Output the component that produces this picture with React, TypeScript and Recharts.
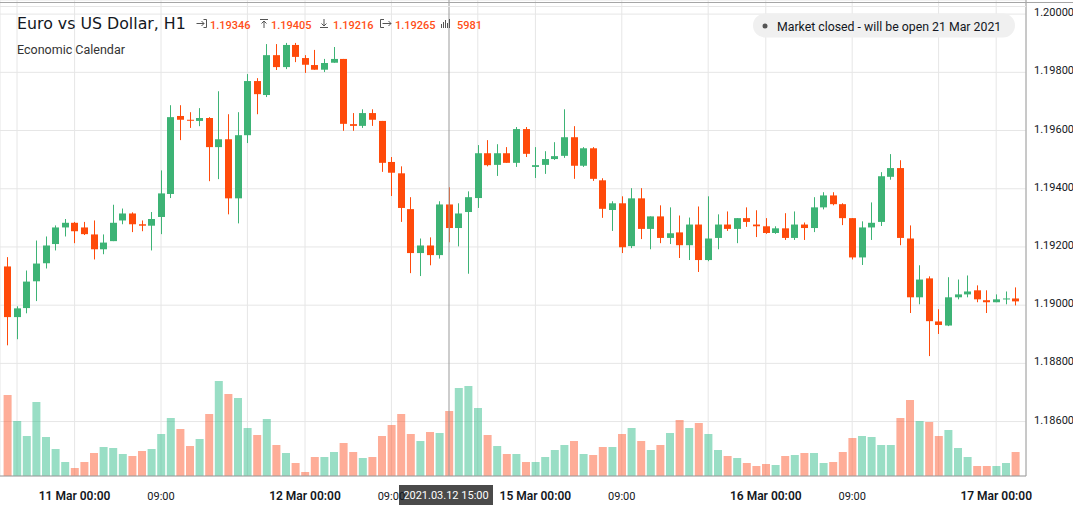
import React from 'react';
import { ComposedChart, Bar, XAxis, YAxis, CartesianGrid, ReferenceLine, Cell } from 'recharts';

// EURUSD H1, 10 Mar 17:00 -> 17 Mar 02:00 (hourly, weekend gap removed)
const open = [
  1.19133, 1.18959, 1.1899, 1.19082, 1.19144, 1.1921, 1.19267, 1.19283, 1.19267, 1.19243,
  1.19192, 1.1922, 1.19291, 1.19315, 1.19278, 1.19273, 1.19303, 1.19382, 1.1965, 1.19637,
  1.19633, 1.19643, 1.19543, 1.1957, 1.19367, 1.19584, 1.1977, 1.19722, 1.19859, 1.19818,
  1.19894, 1.19849, 1.19825, 1.19809, 1.19833, 1.19846, 1.19622, 1.19616, 1.1966, 1.19633,
  1.19492, 1.19453, 1.1933, 1.19179, 1.19205, 1.19172, 1.19346, 1.19265, 1.1932, 1.19368,
  1.19522, 1.19482, 1.19522, 1.19489, 1.19605, 1.19475, 1.19482, 1.19502, 1.19513, 1.19577,
  1.19479, 1.19539, 1.19429, 1.19327, 1.1935, 1.19203, 1.19367, 1.19262, 1.19305, 1.19231,
  1.1925, 1.19206, 1.19277, 1.19155, 1.19231, 1.19277, 1.19262, 1.19299, 1.19277, 1.19271,
  1.19248, 1.19264, 1.19231, 1.19277, 1.19265, 1.19336, 1.19377, 1.19347, 1.19299, 1.19164,
  1.19267, 1.19286, 1.19441, 1.19471, 1.19229, 1.19027, 1.19092, 1.18944, 1.1893, 1.19027,
  1.19037, 1.19051, 1.19017, 1.1901, 1.1902, 1.19023,
];
const high = [
  1.19165, 1.18996, 1.19119, 1.19222, 1.19236, 1.19274, 1.19296, 1.19286, 1.19286, 1.19291,
  1.19243, 1.19345, 1.19332, 1.19319, 1.19291, 1.1932, 1.19463, 1.19687, 1.19687, 1.19663,
  1.19677, 1.19646, 1.19735, 1.19656, 1.19663, 1.19794, 1.1978, 1.19897, 1.19897, 1.19901,
  1.19901, 1.19859, 1.19877, 1.19846, 1.19887, 1.19846, 1.1966, 1.19673, 1.19673, 1.19633,
  1.19509, 1.19477, 1.19371, 1.19229, 1.19233, 1.19357, 1.19405, 1.1935, 1.19391, 1.1955,
  1.19567, 1.19553, 1.19543, 1.19612, 1.19612, 1.19543, 1.19529, 1.1956, 1.19673, 1.19615,
  1.19543, 1.19543, 1.19436, 1.19357, 1.19374, 1.19402, 1.19402, 1.19305, 1.19343, 1.19336,
  1.19308, 1.19301, 1.19339, 1.19374, 1.19312, 1.19322, 1.19299, 1.19336, 1.19326, 1.19299,
  1.19271, 1.19316, 1.19322, 1.19284, 1.19371, 1.19388, 1.19388, 1.1935, 1.19299, 1.19288,
  1.19353, 1.19457, 1.19519, 1.19498, 1.19274, 1.19137, 1.19099, 1.18986, 1.19096, 1.19088,
  1.19102, 1.19068, 1.19051, 1.19037, 1.19047, 1.19061,
];
const low = [
  1.18862, 1.18883, 1.18972, 1.19014, 1.19126, 1.19188, 1.19236, 1.19213, 1.19241, 1.19157,
  1.19175, 1.1922, 1.19278, 1.19251, 1.19254, 1.19188, 1.19244, 1.19368, 1.19567, 1.19609,
  1.19615, 1.19426, 1.19433, 1.19312, 1.19281, 1.19557, 1.19656, 1.19715, 1.19808, 1.19811,
  1.19835, 1.19798, 1.19809, 1.19801, 1.19833, 1.19599, 1.19599, 1.19609, 1.19616, 1.19458,
  1.19375, 1.19286, 1.1911, 1.191, 1.19137, 1.1916, 1.19216, 1.19202, 1.19108, 1.19334,
  1.19477, 1.19444, 1.19489, 1.19475, 1.19509, 1.19437, 1.19451, 1.19499, 1.19506, 1.19434,
  1.19475, 1.19427, 1.193, 1.19255, 1.19179, 1.19196, 1.19227, 1.19192, 1.19213, 1.1921,
  1.19162, 1.19155, 1.19114, 1.19151, 1.19192, 1.19255, 1.19213, 1.19269, 1.19234, 1.19245,
  1.19245, 1.19224, 1.19224, 1.19224, 1.19251, 1.19329, 1.19343, 1.19275, 1.19157, 1.19138,
  1.19224, 1.19272, 1.19431, 1.19206, 1.18973, 1.19003, 1.18825, 1.18901, 1.18928, 1.1902,
  1.19027, 1.1901, 1.18973, 1.1901, 1.19003, 1.18999,
];
const close = [
  1.18959, 1.18989, 1.19081, 1.19143, 1.19205, 1.19267, 1.19283, 1.19254, 1.19244, 1.19192,
  1.19215, 1.19283, 1.19315, 1.19278, 1.19273, 1.19296, 1.19384, 1.19646, 1.19637, 1.19634,
  1.19643, 1.19543, 1.1957, 1.19367, 1.19584, 1.1977, 1.19725, 1.19859, 1.19818, 1.19894,
  1.19853, 1.19826, 1.19809, 1.19832, 1.19846, 1.19623, 1.19616, 1.1966, 1.19637, 1.19489,
  1.19455, 1.19334, 1.19179, 1.19205, 1.19172, 1.19346, 1.19265, 1.19315, 1.19371, 1.19522,
  1.19481, 1.19522, 1.19489, 1.19605, 1.1952, 1.19481, 1.19502, 1.19512, 1.19577, 1.19479,
  1.19539, 1.19434, 1.19331, 1.1935, 1.19199, 1.19367, 1.19262, 1.19305, 1.19231, 1.19247,
  1.19206, 1.19277, 1.19155, 1.19229, 1.19277, 1.19262, 1.19299, 1.19286, 1.19271, 1.19248,
  1.19264, 1.19231, 1.19277, 1.19265, 1.19336, 1.19377, 1.19347, 1.19299, 1.19164, 1.19267,
  1.19283, 1.19443, 1.19471, 1.19231, 1.19027, 1.19088, 1.18945, 1.18932, 1.19027, 1.19037,
  1.19047, 1.1902, 1.1901, 1.1902, 1.19023, 1.19013,
];
const volume = [
  7450, 5060, 3680, 6808, 3588, 2484, 1288, 736, 1288, 2116,
  2668, 2576, 2024, 1840, 2300, 2484, 3864, 5336, 4324, 2760,
  3404, 5704, 8740, 7544, 7176, 4416, 3772, 5244, 2852, 2116,
  1196, 368, 1748, 1748, 2208, 3036, 2208, 1656, 1748, 3680,
  4692, 5704, 3864, 3220, 4048, 3956, 5981, 8096, 8280, 6256,
  3772, 2760, 2024, 2024, 1288, 1288, 1748, 2392, 2852, 3220,
  2024, 1932, 2668, 2668, 3864, 4416, 3220, 2392, 2852, 3956,
  5152, 4416, 4876, 3864, 2392, 1840, 1656, 1196, 920, 1104,
  1012, 1840, 1932, 2116, 2116, 1196, 1288, 2208, 3496, 3680,
  3588, 2852, 2852, 5336, 6992, 5060, 4968, 3680, 4232, 2576,
  1748, 920, 920, 920, 1196, 2208,
];

// x grid positions (bar index, 0 = 10 Mar 18:00) and their labels
const gridTicks = [0, 6, 15, 24, 30, 39, 48, 54, 63, 72, 78, 87, 96, 102];
const tickLabels = ['', '11 Mar 00:00', '09:00', '', '12 Mar 00:00', '09:00', '', '15 Mar 00:00', '09:00', '', '16 Mar 00:00', '09:00', '', '17 Mar 00:00'];
const priceTicks = [1.186, 1.188, 1.19, 1.192, 1.194, 1.196, 1.198, 1.2];

const crossIdx = 45;
const crossLabel = '2021.03.12 15:00';

const UP = '#3db375';
const DOWN = '#ff4a0a';
const FONT = 'Roboto, "Noto Sans", sans-serif';
const TITLE_FONT = '"DejaVu Sans", Roboto, sans-serif';

const data = open.map((o, k) => ({
  i: k - 1,
  o,
  h: high[k],
  l: low[k],
  c: close[k],
  v: volume[k],
  range: [low[k], high[k]],
}));

const Candle = (props: any) => {
  const { x, y, width, height, payload } = props;
  if (x == null || y == null) return null;
  const top = Math.min(y, y + height);
  const hh = Math.abs(height);
  const { o, h, l, c } = payload;
  const k = h - l > 0 ? hh / (h - l) : 0;
  const py = (p: number) => top + (h - p) * k;
  const col = c >= o ? UP : DOWN;
  const R = Math.round(x + width / 2);
  const bTop = py(Math.max(o, c));
  const bBot = py(Math.min(o, c));
  return (
    <g>
      <line x1={R + 0.5} x2={R + 0.5} y1={top} y2={top + hh} stroke={col} strokeWidth={1} />
      <rect x={R - 3} y={bTop} width={7} height={Math.max(1, bBot - bTop)} fill={col} />
    </g>
  );
};

const PriceTick = ({ x, y, payload }: any) => (
  <text x={x + 8} y={y + 2} fontSize={11} fill="#131722" fontFamily={FONT}>
    {Number(payload.value).toFixed(5)}
  </text>
);

const TimeTick = ({ x, y, payload }: any) => {
  const t = tickLabels[gridTicks.indexOf(payload.value)] || '';
  if (!t) return null;
  const day = t.includes('Mar');
  return (
    <text x={x} y={y + 24} textAnchor="middle" fontSize={day ? 12 : 11} fontWeight={day ? 600 : 400} fill="#131722" fontFamily={FONT}>
      {t}
    </text>
  );
};

const CrossTag = (p: any) => {
  const vb = p.viewBox || {};
  const cx = vb.x;
  if (cx == null) return null;
  return (
    <g>
      <rect x={cx - 50} y={485} width={94} height={20} fill="#4a4a4a" />
      <text x={cx - 3} y={499} textAnchor="middle" fontSize={11} fill="#fff" fontFamily={FONT}>
        {crossLabel}
      </text>
    </g>
  );
};

const hc = crossIdx + 1;
const hdr = [open[hc].toFixed(5), high[hc].toFixed(5), low[hc].toFixed(5), close[hc].toFixed(5), String(volume[hc])];

export default function App() {
  return (
    <div style={{ position: 'absolute', left: 0, top: 0, width: 1073, height: 511, background: '#fff', overflow: 'hidden', fontFamily: FONT }}>
      <ComposedChart width={1073} height={511} data={data} margin={{ top: 0, right: 0, bottom: 0, left: 0 }}>
        <CartesianGrid stroke="#e6e6e6" />
        <XAxis
          dataKey="i"
          type="category"
          ticks={gridTicks}
          interval={0}
          height={35}
          padding={{ left: 2.6, right: 5.8 }}
          tickSize={0}
          tickMargin={0}
          tick={<TimeTick />}
          axisLine={{ stroke: '#9e9e9e' }}
        />
        <XAxis xAxisId="v" dataKey="i" type="category" hide padding={{ left: 2.6, right: 5.8 }} />
        <YAxis
          orientation="right"
          width={47}
          domain={[1.18413, 1.200485]}
          allowDataOverflow
          ticks={priceTicks}
          interval={0}
          tickSize={0}
          tickMargin={0}
          tick={<PriceTick />}
          axisLine={{ stroke: '#9e9e9e' }}
        />
        <YAxis yAxisId="v" hide domain={[0, 43792]} allowDataOverflow />
        <Bar xAxisId="v" yAxisId="v" dataKey="v" barSize={8} isAnimationActive={false}>
          {data.map((d, k) => (
            <Cell key={k} fill={d.c >= d.o ? '#33bd8c' : '#fd5c32'} fillOpacity={0.5} />
          ))}
        </Bar>
        <Bar dataKey="range" barSize={7} isAnimationActive={false} shape={(p: any) => <Candle {...p} />} />
        <ReferenceLine x={crossIdx} stroke="#9b9b9b" strokeWidth={1} label={(p: any) => <CrossTag {...p} />} />
      </ComposedChart>

      <svg width={1073} height={70} style={{ position: 'absolute', left: 0, top: 0, pointerEvents: 'none' }} fontFamily={FONT}>
        <line x1={0} x2={1073} y1={2.5} y2={2.5} stroke="#a6a6a6" />
        <line x1={0} x2={1026} y1={6.5} y2={6.5} stroke="#e6e6e6" />
        <text x={17} y={29} fontSize={15.8} fill="#131722" fontFamily={TITLE_FONT}>Euro vs US Dollar, H1</text>
        <text x={17} y={54} fontSize={12.5} fill="#333">Economic Calendar</text>

        <g stroke="#555" fill="none" strokeWidth={1}>
          <path d="M196.5,23.5 H204 M201.5,21 L204,23.5 L201.5,26 M203.5,19.5 H206.5 V27.5 H203.5" />
          <path d="M260,19.5 H268 M264,28 V21 M261.5,23.5 L264,21 L266.5,23.5" />
          <path d="M320,27.5 H328 M324,19 V26 M321.5,23.5 L324,26 L326.5,23.5" />
          <path d="M384,19.5 H380.5 V27.5 H384 M382.5,23.5 H391 M388.5,21 L391,23.5 L388.5,26" />
          <path d="M441.5,28 V24 M443.5,28 V22 M445.5,28 V20 M447.5,28 V23 M449.5,28 V19" />
        </g>
        <g fontSize={11} fill="#ff4e17" fontWeight={500}>
          <text x={210} y={28.5}>{hdr[0]}</text>
          <text x={271} y={28.5}>{hdr[1]}</text>
          <text x={333} y={28.5}>{hdr[2]}</text>
          <text x={395} y={28.5}>{hdr[3]}</text>
          <text x={457} y={28.5}>{hdr[4]}</text>
        </g>

        <rect x={753} y={13.5} width={262} height={24} rx={12} fill="#f0f0f0" />
        <circle cx={765} cy={26} r={2.5} fill="#555" />
        <text x={777} y={30.5} fontSize={12.3} fill="#131722">Market closed - will be open 21 Mar 2021</text>
      </svg>
    </div>
  );
}
